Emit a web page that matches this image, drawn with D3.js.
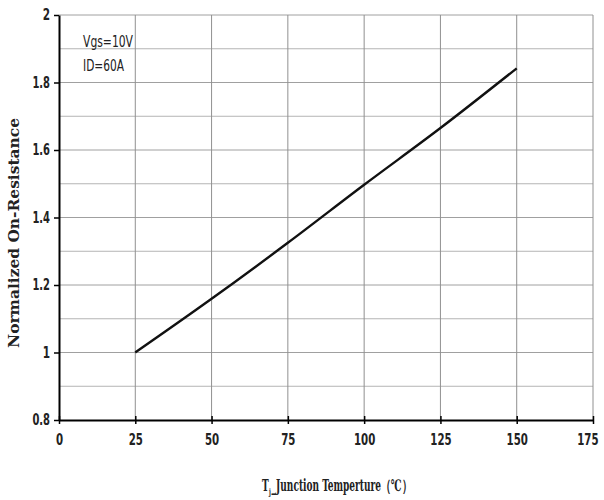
<!DOCTYPE html>
<html><head><meta charset="utf-8">
<script src="https://cdn.jsdelivr.net/npm/d3@7"></script>
<style>body{margin:0;background:#fff}svg{display:block}</style>
</head><body>
<script>
const tempC = [25, 50, 75, 100, 125, 150];
const normRds = [1.0, 1.159, 1.325, 1.497, 1.665, 1.842];
const xTicks = [0, 25, 50, 75, 100, 125, 150, 175];
const yTicks = [0.8, 1, 1.2, 1.4, 1.6, 1.8, 2];
const yMinor = [0.9, 1.1, 1.3, 1.5, 1.7, 1.9];
const notes = ["Vgs=10V", "ID=60A"];

const W = 604, H = 500;
const m = {l: 59, r: 593, t: 15, b: 420};
const svg = d3.select("body").append("svg").attr("width", W).attr("height", H);
const x = d3.scaleLinear().domain([0, 175]).range([m.l, m.r]);
const y = d3.scaleLinear().domain([0.8, 2]).range([m.b, m.t]);
const tickFont = "'DejaVu Sans Condensed','Liberation Sans',sans-serif";
const serif = "'DejaVu Serif Condensed','Liberation Serif',serif";

// minor horizontal grid
svg.append("g").selectAll("line").data(yMinor).join("line")
  .attr("x1", m.l).attr("x2", m.r).attr("y1", d => y(d)).attr("y2", d => y(d))
  .attr("stroke", "#b4b4b4").attr("stroke-width", 1);
// major horizontal grid
svg.append("g").selectAll("line").data(yTicks.slice(1)).join("line")
  .attr("x1", m.l).attr("x2", m.r).attr("y1", d => y(d)).attr("y2", d => y(d))
  .attr("stroke", "#a0a0a0").attr("stroke-width", 1);
// vertical grid
svg.append("g").selectAll("line").data(xTicks.slice(1)).join("line")
  .attr("x1", d => x(d)).attr("x2", d => x(d)).attr("y1", m.t).attr("y2", m.b)
  .attr("stroke", "#909090").attr("stroke-width", 1);

// axes
const xAxis = svg.append("g").attr("transform", `translate(0,${m.b})`)
  .call(d3.axisBottom(x).tickValues(xTicks).tickSizeInner(4).tickSizeOuter(0).tickPadding(10).tickFormat(d3.format("d")));
xAxis.selectAll(".tick line").attr("y1", -4).attr("stroke", "#000").attr("stroke-width", 1.5);
xAxis.select(".domain").attr("stroke", "#000").attr("stroke-width", 2);
xAxis.selectAll("text").attr("font-family", tickFont).attr("font-weight", "bold").attr("font-size", 15).attr("fill", "#222")
  .attr("textLength", d => String(d).length * 7.1).attr("lengthAdjust", "spacingAndGlyphs")
  .attr("text-anchor", d => d === 175 ? "end" : "middle")
  .attr("dx", d => d === 175 ? 5 : 0);

const yAxis = svg.append("g").attr("transform", `translate(${m.l},0)`)
  .call(d3.axisLeft(y).tickValues(yTicks).tickSizeInner(5).tickSizeOuter(0).tickPadding(4).tickFormat(d => d3.format("")(+d.toFixed(1))));
yAxis.selectAll(".tick line").attr("stroke", "#000").attr("stroke-width", 1.5);
yAxis.select(".domain").attr("stroke", "#000").attr("stroke-width", 2);
yAxis.selectAll("text").attr("font-family", tickFont).attr("font-weight", "bold").attr("font-size", 15).attr("fill", "#222")
  .each(function(d) {
    const s = String(+d.toFixed(1));
    const w = s.replace(".", "").length * 7.3 + (s.includes(".") ? 3 : 0);
    d3.select(this).attr("textLength", w).attr("lengthAdjust", "spacingAndGlyphs");
  });

// curve
const line = d3.line().x((d, i) => x(tempC[i])).y(d => y(d)).curve(d3.curveMonotoneX);
svg.append("path").datum(normRds).attr("d", line)
  .attr("fill", "none").attr("stroke", "#111").attr("stroke-width", 2.4);

// notes
const noteLens = [50, 41];
svg.append("g").selectAll("text").data(notes).join("text")
  .attr("x", 83).attr("y", (d, i) => 47 + i * 24)
  .attr("font-family", tickFont).attr("font-size", 15).attr("fill", "#222")
  .attr("textLength", (d, i) => noteLens[i]).attr("lengthAdjust", "spacingAndGlyphs")
  .text(d => d);

// y title
svg.append("text").attr("transform", "translate(19,233) rotate(-90)")
  .attr("text-anchor", "middle").attr("font-family", serif)
  .attr("font-weight", "bold").attr("font-size", 14).attr("fill", "#222")
  .attr("textLength", 230).attr("lengthAdjust", "spacingAndGlyphs")
  .text("Normalized On-Resistance");

// x title: T + subscript j + rest, scaled to fit
const xg = svg.append("g");
const tT = xg.append("text").attr("x", 0).attr("y", 0).attr("font-family", serif)
  .attr("font-weight", "bold").attr("font-size", 16).attr("fill", "#222").text("T");
const wT = tT.node().getComputedTextLength();
const tj = xg.append("text").attr("x", wT + 0.5).attr("y", 4).attr("font-family", serif)
  .attr("font-weight", "bold").attr("font-size", 9).attr("fill", "#222").text("j");
const wj = tj.node().getComputedTextLength();
const tR = xg.append("text").attr("x", wT + wj + 1.5).attr("y", 0).attr("font-family", serif)
  .attr("font-weight", "bold").attr("font-size", 16).attr("fill", "#222").text("_Junction Temperture（℃）");
const total = wT + wj + 1.5 + tR.node().getComputedTextLength();
xg.attr("transform", `translate(262,491) scale(${150 / total},1)`);
</script>
</body></html>
